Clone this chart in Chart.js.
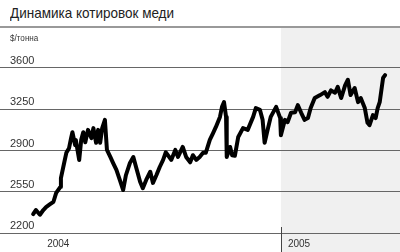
<!DOCTYPE html>
<html>
<head>
<meta charset="utf-8">
<script src="https://cdn.jsdelivr.net/npm/chart.js@4"></script>
<style>
  body { margin: 0; width: 400px; height: 252px; background: #fff; position: relative; overflow: hidden;
         font-family: "Liberation Sans", Arial, sans-serif; }
  #title { position: absolute; left: 10px; top: 4px; font-size: 15px; line-height: 18px; color: #222;
           transform: scaleX(0.9); transform-origin: left top; white-space: nowrap; }
  #rule { position: absolute; left: 0; top: 26px; width: 400px; height: 0; border-top: 2px solid #999; }
  #unit { position: absolute; left: 10px; top: 33px; font-size: 9px; line-height: 11px; color: #333; z-index: 2;
          transform: scaleX(0.9); transform-origin: left top; }
  #wrap { position: absolute; left: 0; top: 28px; width: 400px; height: 224px; }
</style>
</head>
<body>
<div id="title">Динамика котировок меди</div>
<div id="rule"></div>
<div id="unit">$/тонна</div>
<div id="wrap"><canvas id="myChart" width="400" height="224"></canvas></div>
<script>
// days since 1 Jan 2004
const days = [0,4,10,15,19,25,30,34,40,41,46,49,53,56,58,62,63,68,71,74,
  77,81,86,89,93,96,99,102,106,109,114,118,123,128,133,137,143,148,152,158,
  162,167,173,177,182,187,192,196,199,204,210,214,221,226,232,236,241,246,251,255,
  261,266,270,276,279,282,285,286,291,294,298,303,310,317,325,329,335,339,342,347,
  351,359,365,366,372,376,381,387,391,396,401,406,410,416,424,431,435,440,446,450,
  455,461,465,469,475,480,484,490,494,497,502,506,509,512,517,520];
const prices = [2360,2395,2355,2395,2420,2445,2465,2540,2590,2665,
  2800,2880,2920,3005,3055,2945,2990,2820,2990,3055,
  2970,3075,3005,3090,2965,3075,2965,3090,3160,2905,
  2845,2795,2735,2650,2565,2690,2795,2845,2760,2635,
  2580,2650,2720,2625,2690,2760,2820,2885,2860,2820,
  2905,2845,2930,2845,2800,2860,2820,2845,2880,2880,
  2990,3050,3100,3185,3270,3310,3185,2845,2930,2860,
  2855,3015,3090,3075,3185,3260,3245,3160,2965,3090,
  3185,3270,3175,3030,3160,3140,3220,3225,3285,3220,
  3160,3175,3260,3345,3370,3395,3355,3410,3390,3440,
  3345,3455,3500,3370,3430,3310,3345,3260,3135,3115,
  3200,3175,3260,3310,3515,3540];
const yTicks = [2200, 2550, 2900, 3250, 3600];
const years = ['2004', '2005'];
const yearStarts = [0, 366];

const font = '"Liberation Sans", Arial, sans-serif';

// shaded 2005 area, year tick and labels
const yearsPlugin = {
  id: 'years',
  beforeDraw(chart) {
    const { ctx, chartArea, scales } = chart;
    const x05 = scales.x.getPixelForValue(yearStarts[1]);
    ctx.save();
    ctx.fillStyle = '#f0f0f0';
    ctx.fillRect(x05, chartArea.top, chartArea.right - x05, chartArea.bottom - chartArea.top);
    ctx.restore();
  },
  afterDraw(chart) {
    const { ctx, chartArea, scales } = chart;
    const x05 = scales.x.getPixelForValue(yearStarts[1]);
    const yBase = scales.y.getPixelForValue(yTicks[0]);
    ctx.save();
    ctx.strokeStyle = '#444';
    ctx.lineWidth = 1;
    ctx.beginPath();
    ctx.moveTo(Math.round(x05) + 0.5, yBase - 6);
    ctx.lineTo(Math.round(x05) + 0.5, chartArea.bottom);
    ctx.stroke();
    ctx.fillStyle = '#333';
    ctx.font = '10px ' + font;
    ctx.textBaseline = 'alphabetic';
    ctx.fillText(years[0], scales.x.getPixelForValue(yearStarts[0]) + 14, chartArea.bottom - 5);
    ctx.fillText(years[1], x05 + 7, chartArea.bottom - 5);
    ctx.restore();
  }
};

new Chart(document.getElementById('myChart'), {
  type: 'line',
  data: {
    datasets: [{
      data: days.map((d, i) => ({ x: d, y: prices[i] })),
      borderColor: '#000',
      borderWidth: 4,
      borderJoinStyle: 'round',
      borderCapStyle: 'round',
      pointRadius: 0,
      tension: 0
    }]
  },
  options: {
    responsive: false,
    animation: false,
    devicePixelRatio: 1,
    layout: { padding: 0, autoPadding: false },
    plugins: { legend: { display: false }, tooltip: { enabled: false } },
    scales: {
      x: { type: 'linear', min: -49, max: 542, display: false },
      y: {
        min: 2039, max: 3939,
        afterBuildTicks: s => { s.ticks = yTicks.map(v => ({ value: v })); },
        afterFit: s => { s.width = 0; s.paddingTop = 0; s.paddingBottom = 0; },
        border: { display: false },
        grid: { color: '#666', lineWidth: 1, drawTicks: false },
        ticks: {
          mirror: true, padding: 10, labelOffset: -7,
          callback: v => String(v),
          color: '#333', font: { family: font, size: 11 }
        }
      }
    }
  },
  plugins: [yearsPlugin]
});
</script>
</body>
</html>
